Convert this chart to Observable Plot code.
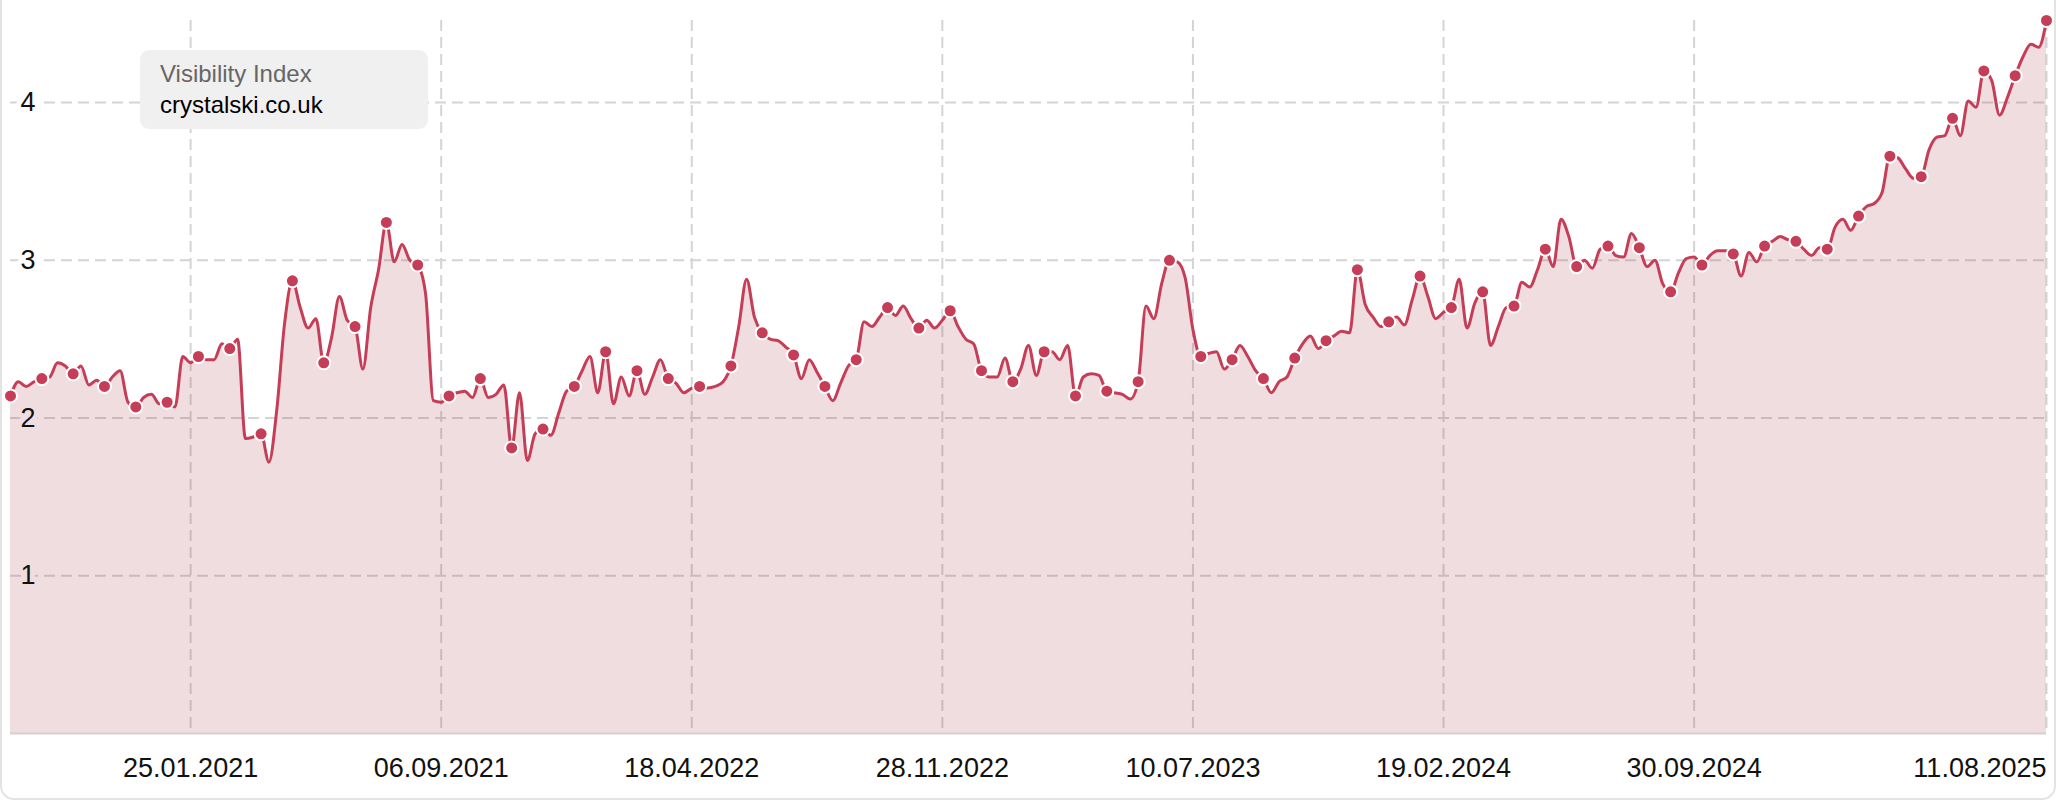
<!DOCTYPE html>
<html>
<head>
<meta charset="utf-8">
<script src="https://cdn.jsdelivr.net/npm/d3@7"></script>
<script src="https://cdn.jsdelivr.net/npm/@observablehq/plot@0.6"></script>
<style>
  html, body { margin: 0; padding: 0; background: #fff; overflow: hidden; }
  #wrap { position: relative; width: 2056px; height: 800px; font-family: "Liberation Sans", Arial, Helvetica, sans-serif; }
  #card { position: absolute; left: 0; top: 0; width: 2056px; height: 800px; box-sizing: border-box;
          border: 2px solid #e3e3e3; border-top: none; border-radius: 0 0 14px 14px; pointer-events: none; }
  #legend { position: absolute; left: 140px; top: 50px; width: 288px; height: 79px; background: #f0f0f0;
            border-radius: 9px; box-sizing: border-box; padding: 8px 0 0 20px; font-size: 24px; line-height: 31px; }
  #legend .t { color: #666; }
  #legend .d { color: #000; }
</style>
</head>
<body>
<div id="wrap">
  <div id="chart"></div>
  <div id="legend"><div class="t">Visibility Index</div><div class="d">crystalski.co.uk</div></div>
  <div id="card"></div>
</div>
<script>
// Weekly Visibility Index, first week starting 17.08.2020
const startDate = "2020-08-17";
const values = [
  2.14, 2.23, 2.20, 2.23, 2.25, 2.26, 2.35, 2.33, 2.28, 2.33,
  2.21, 2.24, 2.20, 2.26, 2.30, 2.10, 2.07, 2.13, 2.15, 2.09,
  2.10, 2.07, 2.39, 2.35, 2.39, 2.37, 2.37, 2.47, 2.44, 2.50,
  1.87, 1.88, 1.90, 1.72, 2.05, 2.60, 2.87, 2.70, 2.57, 2.63,
  2.35, 2.51, 2.77, 2.62, 2.58, 2.31, 2.70, 2.94, 3.24, 2.99,
  3.10, 3.00, 2.97, 2.79, 2.11, 2.10, 2.14, 2.16, 2.17, 2.13,
  2.25, 2.13, 2.15, 2.21, 1.81, 2.16, 1.73, 1.90, 1.93, 1.89,
  2.03, 2.17, 2.20, 2.30, 2.39, 2.16, 2.42, 2.09, 2.26, 2.14,
  2.30, 2.15, 2.26, 2.37, 2.25, 2.22, 2.16, 2.19, 2.20, 2.19,
  2.20, 2.23, 2.33, 2.58, 2.88, 2.64, 2.54, 2.50, 2.49, 2.45,
  2.40, 2.25, 2.37, 2.29, 2.20, 2.11, 2.22, 2.33, 2.37, 2.61,
  2.58, 2.64, 2.70, 2.65, 2.71, 2.63, 2.57, 2.62, 2.57, 2.62,
  2.68, 2.58, 2.50, 2.47, 2.30, 2.26, 2.26, 2.38, 2.23, 2.31,
  2.46, 2.27, 2.42, 2.42, 2.37, 2.46, 2.14, 2.26, 2.28, 2.27,
  2.17, 2.16, 2.15, 2.12, 2.23, 2.71, 2.63, 2.85, 3.00, 2.99,
  2.89, 2.56, 2.39, 2.41, 2.42, 2.31, 2.37, 2.46, 2.39, 2.30,
  2.25, 2.16, 2.23, 2.26, 2.38, 2.47, 2.52, 2.44, 2.49, 2.52,
  2.55, 2.54, 2.94, 2.72, 2.64, 2.58, 2.61, 2.64, 2.59, 2.75,
  2.90, 2.77, 2.63, 2.67, 2.70, 2.88, 2.57, 2.73, 2.80, 2.46,
  2.58, 2.70, 2.71, 2.86, 2.83, 2.94, 3.07, 2.96, 3.26, 3.15,
  2.96, 3.00, 2.95, 3.07, 3.09, 3.03, 3.02, 3.17, 3.08, 2.96,
  3.00, 2.85, 2.80, 2.92, 3.01, 3.02, 2.97, 3.03, 3.06, 3.06,
  3.04, 2.90, 3.05, 2.99, 3.09, 3.12, 3.15, 3.13, 3.12, 3.07,
  3.03, 3.08, 3.07, 3.21, 3.26, 3.19, 3.28, 3.34, 3.36, 3.43,
  3.66, 3.65, 3.58, 3.52, 3.53, 3.70, 3.78, 3.79, 3.90, 3.79,
  4.01, 3.97, 4.20, 4.14, 3.92, 4.03, 4.17, 4.29, 4.37, 4.35,
  4.52
];
const xTickLabels = ["25.01.2021", "06.09.2021", "18.04.2022", "28.11.2022", "10.07.2023", "19.02.2024", "30.09.2024", "11.08.2025"];
const yTicks = [1, 2, 3, 4];
const seriesName = "crystalski.co.uk";

const lineColor = "#c53d56";
const font = '"Liberation Sans", Arial, Helvetica, sans-serif';

const t0 = d3.utcParse("%Y-%m-%d")(startDate);
const data = values.map((v, i) => ({date: d3.utcWeek.offset(t0, i), value: v}));
const markers = data.filter((d, i) => i % 4 === 0);
const parseTick = d3.utcParse("%d.%m.%Y");
const ticks = xTickLabels.map(s => ({date: parseTick(s), label: s}));
const yMax = d3.max(values);

const chart = Plot.plot({
  width: 2056,
  height: 800,
  marginLeft: 10,
  marginRight: 10,
  marginTop: 20,
  marginBottom: 67,
  style: {fontFamily: font, fontSize: "27px", background: "white", overflow: "visible"},
  x: {type: "utc", domain: [data[0].date, data[data.length - 1].date], axis: null},
  y: {domain: [0, yMax], axis: null},
  marks: [
    Plot.gridX(ticks.map(d => d.date), {stroke: "#d4d4d4", strokeOpacity: 1, strokeWidth: 2, strokeDasharray: "11,6"}),
    Plot.gridY(yTicks, {stroke: "#d4d4d4", strokeOpacity: 1, strokeWidth: 2, strokeDasharray: "11,6"}),
    Plot.areaY(data, {x: "date", y: "value", curve: "monotone-x", fill: "rgb(172,66,83)", fillOpacity: 0.18}),
    Plot.ruleY([0], {stroke: "#d8cdd0", strokeWidth: 2}),
    Plot.lineY(data, {x: "date", y: "value", curve: "monotone-x", stroke: lineColor, strokeWidth: 3}),
    Plot.dot(markers, {x: "date", y: "value", r: 6.5, fill: lineColor, stroke: "white", strokeWidth: 2}),
    Plot.text(yTicks.filter(t => t < values[0]), {y: d => d, text: d => String(d), frameAnchor: "left", dx: 10, textAnchor: "start",
      fill: "#111", stroke: "#f0dde0", strokeWidth: 10, paintOrder: "stroke", fontSize: 27}),
    Plot.text(yTicks.filter(t => t >= values[0]), {y: d => d, text: d => String(d), frameAnchor: "left", dx: 10, textAnchor: "start",
      fill: "#111", stroke: "white", strokeWidth: 10, paintOrder: "stroke", fontSize: 27}),
    Plot.text(ticks.slice(0, -1), {x: "date", text: "label", frameAnchor: "bottom", lineAnchor: "top", dy: 24, fill: "#111", fontSize: 27}),
    Plot.text(ticks.slice(-1), {x: "date", text: "label", frameAnchor: "bottom", lineAnchor: "top", dy: 24, textAnchor: "end", fill: "#111", fontSize: 27})
  ]
});
document.getElementById("chart").appendChild(chart);
</script>
</body>
</html>
